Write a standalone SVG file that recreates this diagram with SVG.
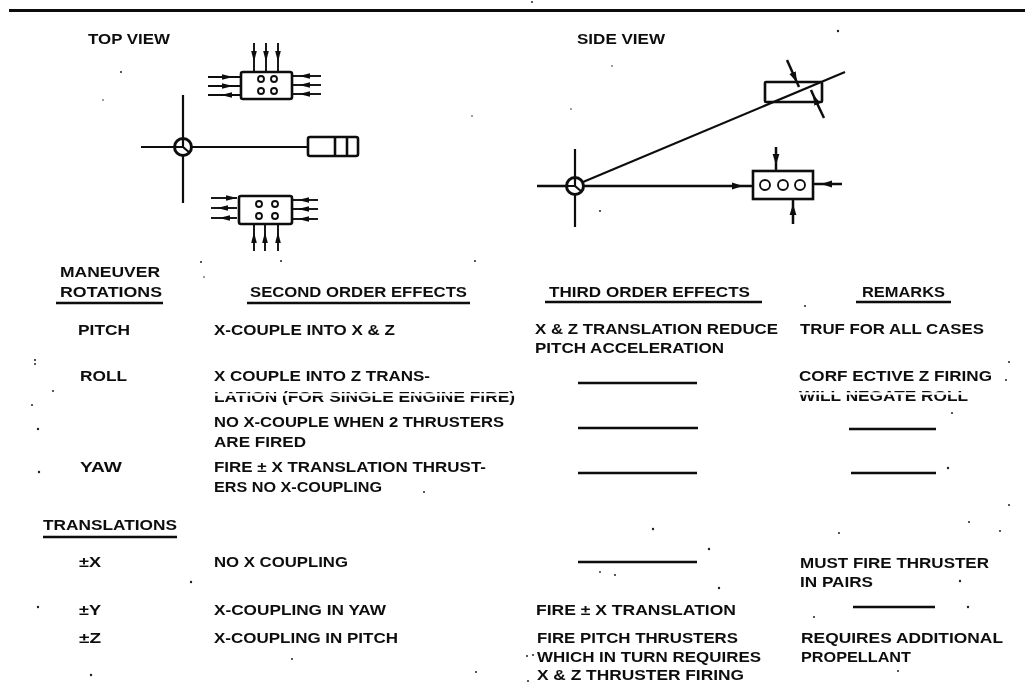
<svg xmlns="http://www.w3.org/2000/svg" width="1025" height="684" viewBox="0 0 1025 684">
<style>
text{font-family:"Liberation Sans",Arial,sans-serif;font-weight:700;font-size:15px;fill:#111}
.s{fill:none;stroke:#111;stroke-width:2.4}
.t{fill:none;stroke:#111;stroke-width:2.2}
.b{fill:#fff;stroke:#111;stroke-width:2.6}
.c{fill:#fff;stroke:#111;stroke-width:1.9}
.a{fill:none;stroke:#111;stroke-width:1.9;marker-mid:url(#h)}
.d{fill:none;stroke:#111;stroke-width:2.5;marker-mid:url(#h2)}
.r{fill:none;stroke:#111;stroke-width:2.6}
.p{fill:#111}
</style>
<defs>
<filter id="f" x="0" y="0" width="100%" height="100%"><feGaussianBlur stdDeviation="0.3"/></filter>
<marker id="h" markerUnits="userSpaceOnUse" markerWidth="12" markerHeight="8" refX="6" refY="4" orient="auto"><path d="M0 1.2 L11 4 L0 6.8Z" fill="#111"/></marker>
<marker id="h2" markerUnits="userSpaceOnUse" markerWidth="12" markerHeight="10" refX="6" refY="5" orient="auto"><path d="M0 1.6 L11 5 L0 8.4Z" fill="#111"/></marker>
</defs>
<rect width="1025" height="684" fill="#fff"/>
<g filter="url(#f)">
<path id="top-rule" d="M9 10.5H1025" stroke="#111" stroke-width="3" fill="none"/>

<g id="connectors">
<path class="t" d="M141 147H308M183 95V203"/>
<path class="a" d="M254 43V57V72"/><path class="a" d="M266 43V57V72"/><path class="a" d="M278 43V57V72"/>
<path class="a" d="M208 77H228H241"/><path class="a" d="M208 86H228H241"/><path class="a" d="M241 95H226H208"/>
<path class="a" d="M321 76H304H292"/><path class="a" d="M321 85H304H292"/><path class="a" d="M321 94H304H292"/>
<path class="a" d="M211 198H232H237"/><path class="a" d="M237 208H222H211"/><path class="a" d="M237 218H224H211"/>
<path class="a" d="M318 200H303H292"/><path class="a" d="M318 209H303H292"/><path class="a" d="M318 219H303H292"/>
<path class="a" d="M254 251V237V224"/><path class="a" d="M265 251V237V224"/><path class="a" d="M278 251V237V224"/>
<path class="t" d="M575 149V227M583 182L845 72"/>
<path class="d" d="M537 186H738H753"/>
<path class="d" d="M787 60L795 78L799 87"/>
<path class="d" d="M824 118L815 99L811 90"/>
<path class="d" d="M776 147V160V171"/>
<path class="d" d="M793 224V209V199"/>
<path class="d" d="M842 184H826H813"/>
</g>

<g id="pivot-top"><circle class="b" style="stroke-width:3" cx="183" cy="147" r="8.5"/><path class="t" d="M176 147H183V140M183 147L190 153"/></g>
<g id="pivot-side"><circle class="b" style="stroke-width:3" cx="575" cy="186" r="8.5"/><path class="t" d="M568 186H575V179M575 186L582 192"/></g>

<g id="top-thrusters"><rect class="b" x="241" y="72" width="51" height="27" rx="2"/><circle class="c" cx="261" cy="79" r="3"/><circle class="c" cx="274" cy="79" r="3"/><circle class="c" cx="261" cy="91" r="3"/><circle class="c" cx="274" cy="91" r="3"/></g>
<g id="bottom-thrusters"><rect class="b" x="239" y="196" width="53" height="28" rx="2"/><circle class="c" cx="259" cy="204" r="3"/><circle class="c" cx="275" cy="204" r="3"/><circle class="c" cx="259" cy="216" r="3"/><circle class="c" cx="275" cy="216" r="3"/></g>
<g id="engine-top"><rect class="b" x="308" y="137" width="50" height="19" rx="2"/><path class="b" d="M335 137V156M347 137V156"/></g>
<g id="tilted-block"><rect class="r" x="765" y="82" width="57" height="20" rx="1"/></g>
<g id="side-thrusters"><rect class="b" x="753" y="171" width="60" height="28"/><circle class="c" cx="765" cy="185" r="5"/><circle class="c" cx="783" cy="185" r="5"/><circle class="c" cx="800" cy="185" r="5"/></g>

<g id="labels">
<text lengthAdjust="spacingAndGlyphs" x="88" y="44" textLength="82">TOP VIEW</text>
<text lengthAdjust="spacingAndGlyphs" x="577" y="44" textLength="88">SIDE VIEW</text>
<text lengthAdjust="spacingAndGlyphs" x="60" y="277" textLength="100">MANEUVER</text>
<text lengthAdjust="spacingAndGlyphs" x="60" y="297" textLength="102">ROTATIONS</text>
<text lengthAdjust="spacingAndGlyphs" x="250" y="297" textLength="217">SECOND ORDER EFFECTS</text>
<text lengthAdjust="spacingAndGlyphs" x="549" y="297" textLength="201">THIRD ORDER EFFECTS</text>
<text lengthAdjust="spacingAndGlyphs" x="862" y="297" textLength="83">REMARKS</text>
<path class="s" d="M56 303H163M247 303H470M545 302H762M856 302H951"/>

<text lengthAdjust="spacingAndGlyphs" x="78" y="335" textLength="52">PITCH</text>
<text lengthAdjust="spacingAndGlyphs" x="214" y="335" textLength="181">X-COUPLE INTO X &amp; Z</text>
<text lengthAdjust="spacingAndGlyphs" x="535" y="334" textLength="243">X &amp; Z TRANSLATION REDUCE</text>
<text lengthAdjust="spacingAndGlyphs" x="535" y="353" textLength="189">PITCH ACCELERATION</text>
<text lengthAdjust="spacingAndGlyphs" x="800" y="334" textLength="184">TRUF FOR ALL CASES</text>

<text lengthAdjust="spacingAndGlyphs" x="80" y="381" textLength="47">ROLL</text>
<text lengthAdjust="spacingAndGlyphs" x="214" y="381" textLength="216">X COUPLE INTO Z TRANS-</text>
<text lengthAdjust="spacingAndGlyphs" x="214" y="402" textLength="301">LATION (FOR SINGLE ENGINE FIRE)</text>
<text lengthAdjust="spacingAndGlyphs" x="799" y="381" textLength="193">CORF ECTIVE Z FIRING</text>
<text lengthAdjust="spacingAndGlyphs" x="799" y="401" textLength="169">WILL NEGATE ROLL</text>
<path d="M210 394.5H520M795 393.5H975" stroke="#fff" stroke-width="2.4"/>
<text lengthAdjust="spacingAndGlyphs" x="214" y="427" textLength="290">NO X-COUPLE WHEN 2 THRUSTERS</text>
<text lengthAdjust="spacingAndGlyphs" x="214" y="447" textLength="92">ARE FIRED</text>
<text lengthAdjust="spacingAndGlyphs" x="80" y="472" textLength="42">YAW</text>
<text lengthAdjust="spacingAndGlyphs" x="214" y="472" textLength="272">FIRE ± X TRANSLATION THRUST-</text>
<text lengthAdjust="spacingAndGlyphs" x="214" y="492" textLength="168">ERS NO X-COUPLING</text>

<text lengthAdjust="spacingAndGlyphs" x="43" y="530" textLength="134">TRANSLATIONS</text>
<path class="s" d="M43 537H177"/>

<text lengthAdjust="spacingAndGlyphs" x="79" y="567" textLength="22">±X</text>
<text lengthAdjust="spacingAndGlyphs" x="214" y="567" textLength="134">NO X COUPLING</text>
<text lengthAdjust="spacingAndGlyphs" x="800" y="568" textLength="189">MUST FIRE THRUSTER</text>
<text lengthAdjust="spacingAndGlyphs" x="800" y="587" textLength="73">IN PAIRS</text>
<text lengthAdjust="spacingAndGlyphs" x="79" y="615" textLength="22">±Y</text>
<text lengthAdjust="spacingAndGlyphs" x="214" y="615" textLength="172">X-COUPLING IN YAW</text>
<text lengthAdjust="spacingAndGlyphs" x="536" y="615" textLength="200">FIRE ± X TRANSLATION</text>
<text lengthAdjust="spacingAndGlyphs" x="79" y="643" textLength="22">±Z</text>
<text lengthAdjust="spacingAndGlyphs" x="214" y="643" textLength="184">X-COUPLING IN PITCH</text>
<text lengthAdjust="spacingAndGlyphs" x="537" y="643" textLength="201">FIRE PITCH THRUSTERS</text>
<text lengthAdjust="spacingAndGlyphs" x="537" y="662" textLength="224">WHICH IN TURN REQUIRES</text>
<text lengthAdjust="spacingAndGlyphs" x="537" y="680" textLength="207">X &amp; Z THRUSTER FIRING</text>
<text lengthAdjust="spacingAndGlyphs" x="801" y="643" textLength="202">REQUIRES ADDITIONAL</text>
<text lengthAdjust="spacingAndGlyphs" x="801" y="662" textLength="110">PROPELLANT</text>

<path class="s" d="M578 383H697M578 428H698M578 473H697M578 562H697M849 429H936M851 473H936M853 607H935"/>
</g>

<g id="specks" fill="#222">
<circle cx="532" cy="2" r="1"/>
<circle cx="838" cy="31" r="1.2"/><circle cx="121" cy="72" r="1"/><circle cx="103" cy="100" r=".8"/><circle cx="472" cy="116" r=".8"/><circle cx="612" cy="66" r=".8"/><circle cx="571" cy="109" r=".8"/><circle cx="600" cy="211" r="1"/><circle cx="201" cy="262" r="1"/><circle cx="281" cy="261" r="1"/><circle cx="475" cy="261" r="1"/><circle cx="204" cy="277" r=".8"/><circle cx="805" cy="306" r="1"/><circle cx="35" cy="360" r="1.1"/><circle cx="35" cy="364" r="1"/><circle cx="53" cy="391" r="1"/><circle cx="32" cy="405" r="1"/><circle cx="38" cy="429" r="1.2"/><circle cx="39" cy="472" r="1.2"/><circle cx="424" cy="492" r="1"/><circle cx="1009" cy="362" r="1"/><circle cx="1006" cy="380" r="1"/><circle cx="952" cy="413" r="1"/><circle cx="948" cy="468" r="1.2"/><circle cx="653" cy="529" r="1.2"/><circle cx="709" cy="549" r="1.2"/><circle cx="600" cy="572" r=".9"/><circle cx="615" cy="575" r="1"/><circle cx="719" cy="588" r="1.2"/><circle cx="969" cy="522" r="1"/><circle cx="1009" cy="505" r="1"/><circle cx="1000" cy="531" r="1"/><circle cx="839" cy="533" r="1"/><circle cx="960" cy="581" r="1.2"/><circle cx="968" cy="607" r="1.2"/><circle cx="814" cy="617" r="1"/><circle cx="191" cy="582" r="1.2"/><circle cx="38" cy="607" r="1.2"/><circle cx="91" cy="675" r="1.2"/><circle cx="292" cy="659" r="1"/><circle cx="476" cy="672" r="1"/><circle cx="527" cy="656" r="1"/><circle cx="533" cy="655" r="1"/><circle cx="528" cy="681" r="1"/><circle cx="898" cy="671" r="1"/>
</g>
</g>
</svg>
